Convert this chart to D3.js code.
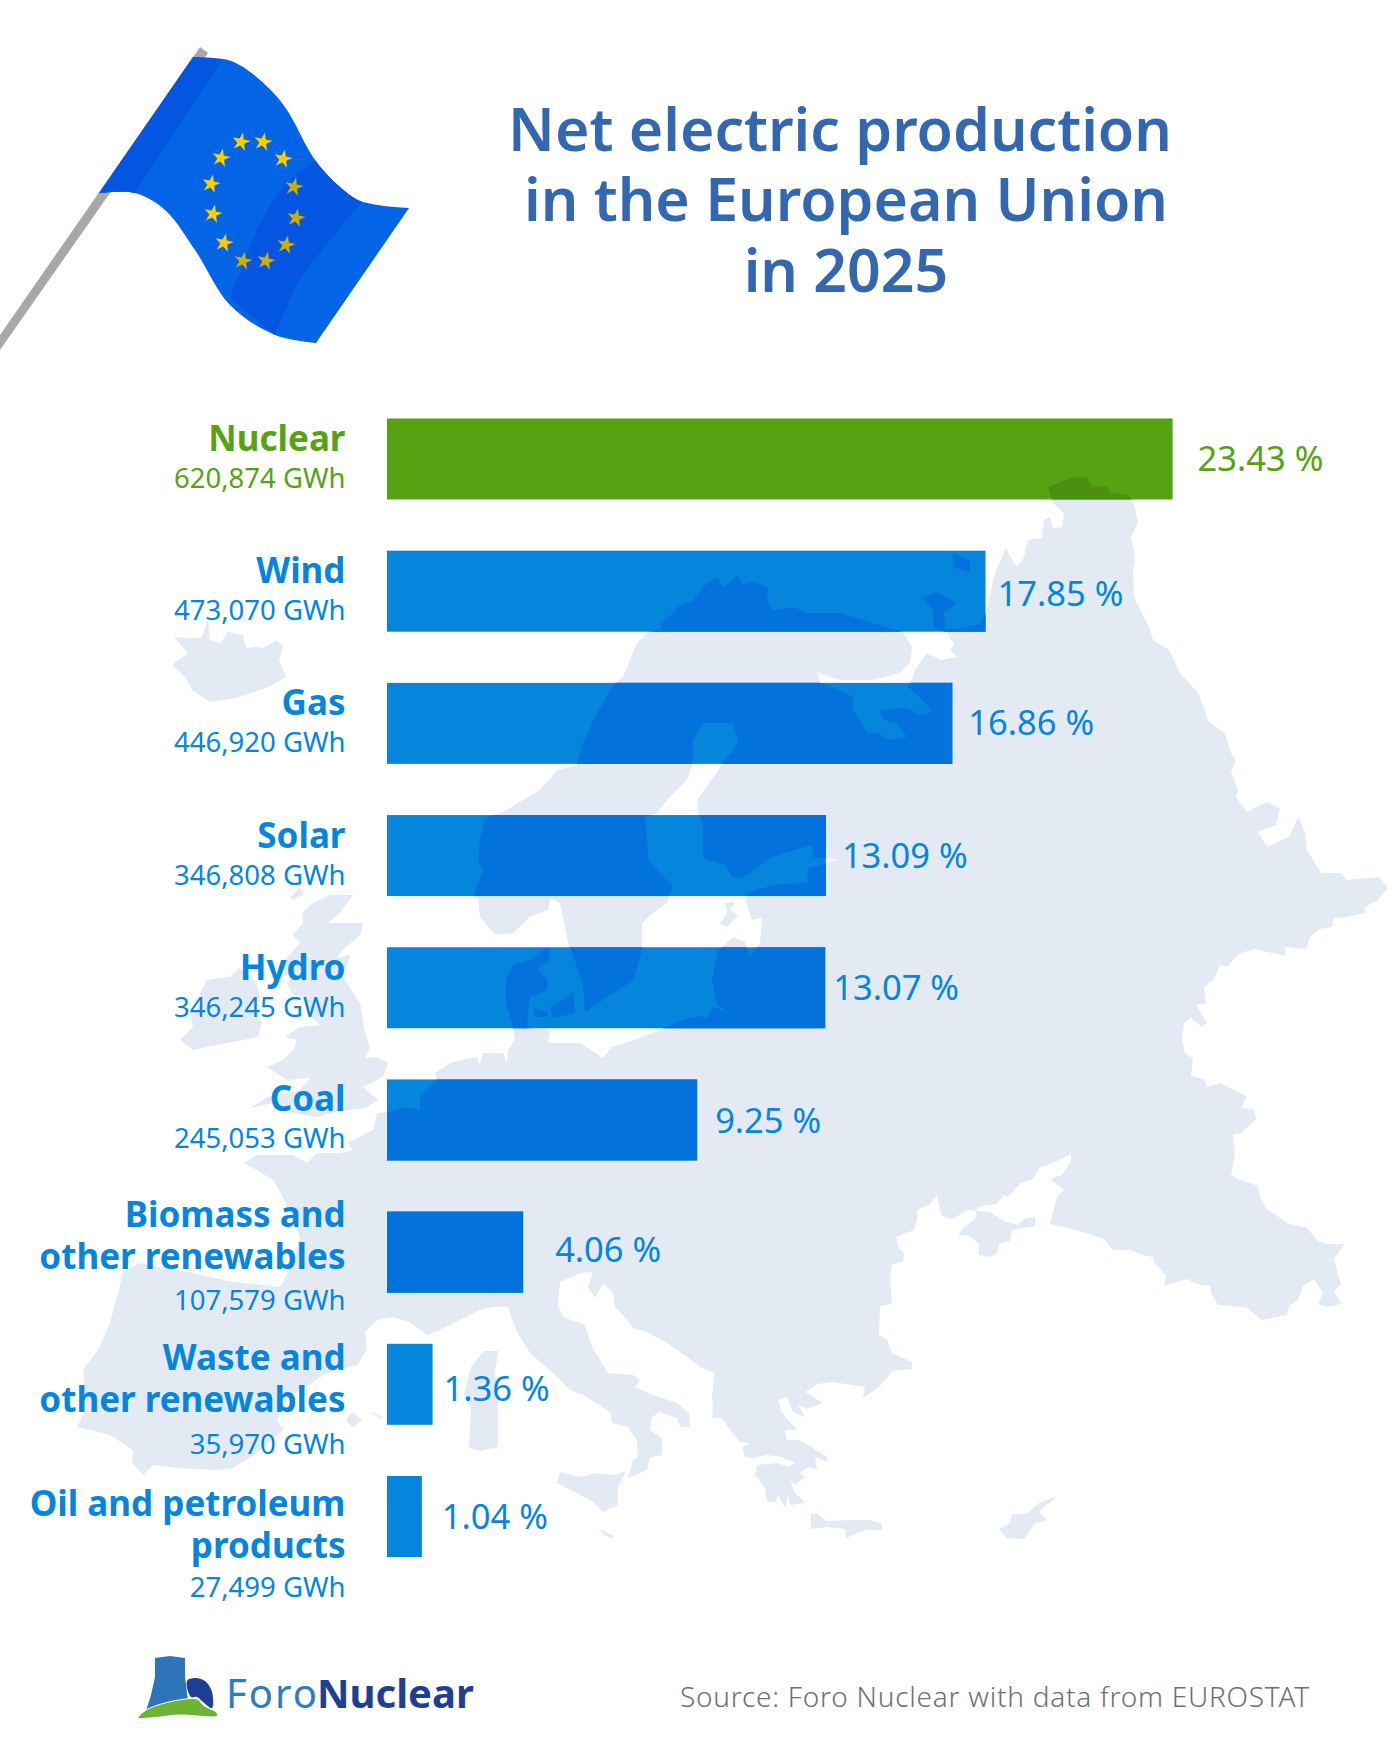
<!DOCTYPE html>
<html lang="en">
<head>
<meta charset="utf-8">
<title>Net electric production in the European Union in 2025</title>
<script src="https://cdn.jsdelivr.net/npm/d3@7"></script>
<style>
  html, body { margin: 0; padding: 0; background: #fff; }
  svg { display: block; }
  text { font-family: "Noto Sans", "Open Sans", sans-serif; }
</style>
</head>
<body>
<svg id="chart" width="1400" height="1750"></svg>
<script>
// ---- Chart data -------------------------------------------------------
const categories = ["Nuclear", "Wind", "Gas", "Solar", "Hydro", "Coal",
  "Biomass and other renewables", "Waste and other renewables", "Oil and petroleum products"];
const categoryLines = [["Nuclear"], ["Wind"], ["Gas"], ["Solar"], ["Hydro"], ["Coal"],
  ["Biomass and", "other renewables"], ["Waste and", "other renewables"], ["Oil and petroleum", "products"]];
const gwhValues = [620874, 473070, 446920, 346808, 346245, 245053, 107579, 35970, 27499];
const shareValues = [23.43, 17.85, 16.86, 13.09, 13.07, 9.25, 4.06, 1.36, 1.04];
const titleLines = ["Net electric production", "in the European Union", "in 2025"];
const sourceText = "Source: Foro Nuclear with data from EUROSTAT";

// ---- Row layout: hand-set label offsets for each row ------------------
const nameOffset = [32.5, 32.5, 32.5, 32.5, 32.5, 31.5, 15.5, 26, 40];
const gwhOffset = [69.5, 69.5, 69.5, 69.5, 70, 69, 98, 110, 121];
const shareOffset = [52, 55.5, 52.5, 53, 53, 54, 50.5, 57, 53.5];
const shareGap = [25, 12, 16, 16, 8, 18, 32, 11, 20];

// ---- Map of Europe (page coordinates) ---------------------------------
const mainland = [[660,630],[662,623],[673,613],[680,605],[693,601],[703,587],[717,577],[723,587],[730,583],[738,574],[742,585],[753,582],[768,587],[767,600],[773,610],[793,607],[807,613],[840,613],[873,623],[903,632],[912,647],[910,663],[900,673],[873,680],[840,680],[817,672],[820,683],[833,687],[853,697],[853,710],[867,733],[877,733],[890,740],[907,737],[897,723],[883,720],[880,710],[907,708],[920,715],[933,712],[920,697],[908,687],[913,677],[915,670],[927,653],[941,660],[957,657],[950,650],[954,645],[948,633],[934,628],[933,610],[922,598],[937,592],[957,603],[944,613],[945,630],[968,627],[980,624],[986,613],[995,573],[1001,560],[1006,548],[1012,560],[1017,567],[1024,557],[1028,540],[1042,538],[1044,520],[1050,517],[1053,528],[1062,527],[1064,513],[1053,503],[1048,487],[1071,478],[1086,477],[1093,487],[1106,486],[1111,493],[1129,495],[1135,507],[1138,523],[1131,537],[1135,557],[1133,570],[1134,597],[1142,613],[1149,627],[1153,640],[1169,650],[1180,673],[1198,693],[1209,722],[1225,733],[1231,753],[1236,760],[1231,772],[1238,790],[1236,797],[1247,812],[1267,802],[1280,808],[1276,825],[1258,832],[1267,847],[1289,837],[1298,817],[1305,832],[1307,850],[1321,873],[1341,873],[1347,880],[1379,877],[1388,888],[1378,900],[1365,907],[1365,913],[1347,917],[1334,918],[1332,927],[1320,929],[1309,938],[1307,949],[1285,947],[1285,956],[1254,949],[1238,954],[1227,967],[1220,965],[1213,980],[1204,987],[1206,1003],[1196,1005],[1207,1023],[1202,1027],[1191,1018],[1184,1023],[1182,1038],[1185,1054],[1193,1058],[1191,1076],[1204,1079],[1207,1087],[1220,1083],[1247,1096],[1241,1108],[1254,1110],[1256,1119],[1240,1134],[1233,1134],[1235,1154],[1231,1175],[1238,1179],[1258,1186],[1260,1197],[1266,1208],[1289,1224],[1307,1228],[1318,1241],[1327,1244],[1345,1244],[1334,1259],[1337,1270],[1341,1284],[1334,1291],[1342,1304],[1327,1307],[1318,1304],[1323,1293],[1314,1279],[1303,1286],[1298,1300],[1289,1306],[1287,1315],[1262,1320],[1247,1308],[1231,1306],[1218,1305],[1211,1293],[1211,1286],[1196,1284],[1187,1279],[1164,1286],[1166,1275],[1155,1264],[1153,1257],[1142,1255],[1131,1250],[1113,1250],[1104,1239],[1086,1233],[1071,1229],[1050,1224],[1053,1212],[1057,1197],[1064,1190],[1050,1179],[1062,1175],[1071,1161],[1071,1154],[1053,1163],[1039,1168],[1033,1179],[1021,1183],[1008,1197],[1004,1195],[997,1204],[983,1206],[977,1208],[975,1219],[963,1228],[958,1236],[968,1235],[979,1244],[979,1255],[990,1257],[997,1253],[999,1244],[1010,1241],[1012,1230],[1035,1226],[1035,1217],[1024,1219],[1017,1225],[1004,1221],[990,1212],[968,1210],[952,1219],[941,1215],[937,1195],[930,1204],[917,1210],[917,1220],[914,1230],[896,1237],[899,1248],[904,1253],[903,1262],[892,1264],[890,1279],[892,1304],[880,1306],[879,1335],[887,1340],[892,1353],[912,1362],[912,1369],[892,1371],[879,1387],[863,1398],[865,1387],[832,1382],[818,1384],[805,1392],[823,1403],[807,1409],[798,1405],[805,1417],[793,1412],[787,1397],[778,1400],[782,1413],[797,1430],[785,1430],[787,1440],[800,1440],[827,1457],[828,1462],[815,1457],[817,1470],[808,1467],[800,1473],[805,1477],[795,1485],[790,1480],[795,1493],[806,1503],[790,1505],[788,1495],[785,1508],[778,1495],[775,1502],[767,1502],[765,1488],[755,1475],[757,1465],[777,1463],[788,1467],[795,1463],[782,1457],[767,1455],[753,1458],[745,1457],[742,1447],[750,1443],[740,1442],[730,1430],[722,1418],[712,1418],[713,1407],[712,1397],[714,1373],[700,1367],[687,1357],[667,1343],[647,1332],[633,1328],[623,1315],[615,1307],[613,1293],[603,1283],[595,1298],[588,1287],[593,1272],[580,1273],[560,1282],[558,1305],[563,1317],[585,1325],[592,1347],[608,1373],[633,1375],[640,1380],[635,1387],[653,1395],[677,1403],[689,1413],[690,1427],[680,1427],[677,1418],[660,1412],[652,1417],[650,1430],[662,1438],[662,1455],[650,1458],[647,1470],[628,1478],[633,1460],[638,1457],[637,1440],[628,1427],[612,1423],[610,1412],[583,1395],[570,1390],[553,1373],[530,1353],[517,1332],[508,1307],[503,1307],[493,1307],[480,1310],[440,1330],[427,1335],[410,1322],[393,1317],[377,1320],[365,1332],[367,1350],[357,1365],[327,1373],[300,1390],[283,1403],[277,1420],[283,1430],[257,1453],[233,1468],[217,1470],[177,1468],[153,1465],[143,1475],[132,1463],[133,1450],[110,1435],[77,1427],[87,1407],[83,1370],[98,1350],[110,1323],[118,1293],[123,1272],[140,1263],[193,1273],[233,1282],[280,1287],[293,1263],[300,1237],[283,1197],[273,1180],[257,1170],[243,1163],[257,1155],[293,1155],[307,1163],[317,1153],[340,1153],[353,1150],[347,1143],[373,1130],[377,1113],[387,1112],[407,1107],[420,1110],[420,1097],[437,1080],[435,1073],[443,1068],[452,1062],[477,1057],[480,1065],[483,1053],[503,1053],[507,1063],[508,1050],[515,1040],[513,1027],[507,1007],[505,993],[507,977],[513,965],[530,960],[548,947],[550,960],[537,970],[548,980],[547,990],[530,997],[528,1013],[527,1028],[550,1030],[548,1043],[580,1043],[603,1058],[612,1047],[625,1043],[656,1032],[683,1020],[700,1016],[707,1018],[713,1007],[729,1012],[717,1005],[712,980],[718,951],[733,937],[745,942],[750,957],[760,943],[762,918],[752,920],[745,900],[747,893],[773,885],[807,883],[808,868],[838,860],[813,857],[812,845],[787,852],[770,858],[750,873],[742,878],[733,878],[725,865],[703,858],[703,823],[698,813],[697,800],[710,782],[723,763],[738,743],[733,723],[703,723],[693,740],[693,763],[687,780],[667,800],[657,813],[645,817],[648,853],[647,858],[657,870],[673,887],[667,903],[653,913],[642,923],[642,950],[634,980],[612,994],[585,1012],[583,985],[571,949],[569,947],[560,903],[550,897],[560,887],[550,900],[548,910],[530,917],[513,933],[495,935],[480,917],[478,900],[473,897],[483,870],[478,860],[480,840],[485,818],[507,810],[518,803],[540,790],[557,770],[577,765],[583,743],[597,713],[615,683],[623,677],[637,643],[648,632]];
const iceland = [[208,620],[201,638],[188,638],[174,637],[188,653],[172,665],[185,677],[192,690],[210,702],[237,698],[268,687],[286,677],[279,660],[283,647],[277,640],[263,648],[257,647],[246,648],[243,635],[228,632],[221,643],[210,640]];
const greatBritain = [[313,903],[330,895],[353,895],[340,913],[328,923],[363,923],[360,935],[343,950],[337,958],[350,955],[343,977],[360,1003],[365,1033],[370,1047],[365,1058],[377,1057],[388,1063],[383,1077],[363,1087],[378,1100],[365,1108],[337,1112],[317,1117],[293,1113],[273,1103],[250,1108],[267,1097],[300,1090],[310,1078],[287,1080],[267,1067],[283,1060],[293,1050],[297,1040],[285,1037],[300,1027],[320,1025],[307,1013],[303,997],[293,995],[287,983],[297,973],[280,977],[287,957],[300,943],[293,935],[303,923],[302,913]];
const ireland = [[207,980],[218,978],[230,977],[240,968],[257,983],[260,997],[255,1007],[262,1023],[258,1037],[227,1043],[193,1050],[180,1040],[193,1027],[190,1013],[203,1003],[200,993]];
const smallIslands = [
  [[952,553],[970,560],[970,573],[954,567]],
  [[533,1008],[548,1012],[547,1017],[535,1017]],
  [[550,1008],[560,1002],[573,992],[575,1013],[553,1018]],
  [[725,903],[735,902],[730,910],[738,915],[727,927],[720,923],[727,913]],
  [[290,897],[300,887],[303,895],[293,900]],
  [[471,1367],[484,1351],[498,1351],[495,1373],[498,1400],[498,1447],[480,1451],[469,1447],[471,1409],[464,1395]],
  [[347,1417],[353,1412],[362,1420],[353,1427],[347,1422]],
  [[372,1412],[382,1417],[382,1419],[373,1414]],
  [[560,1472],[557,1483],[577,1493],[593,1502],[603,1512],[618,1505],[618,1487],[626,1471],[613,1475],[597,1473],[580,1477]],
  [[600,1529],[607,1533],[614,1536],[612,1538],[604,1535]],
  [[811,1514],[817,1514],[827,1521],[850,1520],[870,1520],[882,1524],[882,1530],[865,1530],[846,1538],[845,1529],[827,1527],[811,1529]],
  [[1057,1496],[1039,1503],[1026,1514],[1012,1514],[1010,1523],[999,1529],[1006,1538],[1024,1539],[1034,1524],[1047,1520],[1039,1512]]
];
const landShapes = [mainland, iceland, greatBritain, ireland, ...smallIslands];

// ---- Flag outline ------------------------------------------------------
const poleOutline = [[200,47],[208,53],[0,350],[0,335]];
const flagTopEdge = [[193,57],[223,59],[260,80],[287,110],[313,157],[340,187],[363,202],[409,208]];
const flagBottomEdge = [[99,193],[135,193],[165,210],[195,250],[230,305],[275,335],[316,343]];
const foldOne = [[193,57],[223,59],[135,193],[99,193]];
const foldTwoUpper = [[230,298],[257,230],[315,160]];
const foldTwoLower = [[275,335],[300,280],[362,202]];
const starCentres = [[241,142],[263,142],[283,159],[294,187],[296,218],[286,245],[266,261],[243,261],[224,243],[213,214],[211,184],[221,158]];
const shadedStars = [3, 4, 5, 6, 7];

// ---- Logo outline ------------------------------------------------------
const logoTower = [[155,1658],[170,1656],[185,1658],[185,1677],[188,1701],[146,1711],[151,1695],[155,1677]];
const logoDome = [[187,1681],[195,1678],[205,1681],[212,1692],[212,1708],[203,1702],[197,1697],[191,1697]];
const logoHill = [[138,1718],[150,1708],[197,1699],[203,1705],[217,1713],[217,1716],[180,1715],[150,1718]];

// ---- Scales -------------------------------------------------------------
const colors = {
  green: "#57a213", greenOnLand: "#4d8f10",
  blue: "#0585dc", blueOnLand: "#0472dc",
  land: "#e3eaf4", title: "#3368b0", source: "#707070"
};
const x = d3.scaleLinear().domain([0, 23.43]).range([387, 1172.6]);
const y = d3.scaleBand().domain(categories).range([418.5, 1557]).paddingInner(0.3872);

const svg = d3.select("#chart");
const outline = d3.line().curve(d3.curveLinear);
const closed = pts => outline(pts) + "Z";
const smooth = d3.line().curve(d3.curveMonotoneX);
const rounded = d3.line().curve(d3.curveCatmullRomClosed.alpha(0.5));

// ---- Background map ------------------------------------------------------
svg.append("g").selectAll("path").data(landShapes).join("path")
  .attr("d", closed).attr("fill", colors.land);

// ---- Flag ------------------------------------------------------------------
const flag = svg.append("g");
flag.append("path").attr("d", closed(poleOutline)).attr("fill", "#a8a8a8");
const band = (upper, lower) => {
  const back = d3.line().curve(d3.curveMonotoneX)(lower);
  const reversed = d3.line().curve(d3.curveCatmullRom)(lower.slice().reverse());
  return smooth(upper) + "L" + reversed.slice(1) + "Z";
};
const clothPath = band(flagTopEdge, flagBottomEdge);
flag.append("path").attr("d", clothPath).attr("fill", "#0365e6");
const defs = svg.append("defs");
defs.append("clipPath").attr("id", "cloth").append("path").attr("d", clothPath);
const folds = flag.append("g").attr("clip-path", "url(#cloth)").attr("fill", "#0256e2");
folds.append("path").attr("d", closed(foldOne));
folds.append("path").attr("d", band(foldTwoUpper, foldTwoLower));
flag.append("g").selectAll("path").data(starCentres).join("path")
  .attr("d", d3.symbol(d3.symbolStar, 105))
  .attr("transform", d => `translate(${d[0]},${d[1]}) rotate(12)`)
  .attr("fill", (d, i) => shadedStars.includes(i) ? "#cbae06" : "#ffcc00");

// ---- Title -----------------------------------------------------------------
const titleX = [840, 846, 846];
const titleY = [150.5, 221, 291.5];
svg.append("g").selectAll("text").data(titleLines).join("text")
  .attr("x", (d, i) => titleX[i]).attr("y", (d, i) => titleY[i])
  .attr("text-anchor", "middle").attr("font-size", 59).attr("font-weight", 600)
  .attr("fill", colors.title).text(d => d);

// ---- Bars, with the land showing through them --------------------------------
const rowColor = i => i === 0 ? colors.green : colors.blue;
const rowLand = i => i === 0 ? colors.greenOnLand : colors.blueOnLand;
const rows = svg.append("g").selectAll("g").data(categories).join("g");
rows.append("rect")
  .attr("x", x(0)).attr("y", d => y(d))
  .attr("width", (d, i) => x(shareValues[i]) - x(0))
  .attr("height", y.bandwidth())
  .attr("fill", (d, i) => rowColor(i));
rows.append("clipPath").attr("id", (d, i) => "row-" + i).append("rect")
  .attr("x", x(0)).attr("y", d => y(d))
  .attr("width", (d, i) => x(shareValues[i]) - x(0))
  .attr("height", y.bandwidth());
rows.append("g").attr("clip-path", (d, i) => `url(#row-${i})`)
  .attr("fill", (d, i) => rowLand(i))
  .selectAll("path").data(landShapes).join("path").attr("d", closed);

// ---- Row labels -------------------------------------------------------------
const labelRight = 345.5;
const nameLead = 42;
rows.each(function (d, i) {
  const row = d3.select(this);
  const top = y(d);
  row.selectAll("text.name").data(categoryLines[i]).join("text").attr("class", "name")
    .attr("x", labelRight).attr("y", (s, k) => top + nameOffset[i] + k * nameLead)
    .attr("text-anchor", "end").attr("font-size", 35).attr("font-weight", 700)
    .attr("fill", rowColor(i)).text(s => s);
  row.append("text")
    .attr("x", labelRight).attr("y", top + gwhOffset[i])
    .attr("text-anchor", "end").attr("font-size", 27.5).attr("font-weight", 400)
    .attr("fill", rowColor(i)).text(d3.format(",")(gwhValues[i]) + " GWh");
  row.append("text")
    .attr("x", x(shareValues[i]) + shareGap[i]).attr("y", top + shareOffset[i])
    .attr("font-size", 34.5).attr("font-weight", 400)
    .attr("fill", rowColor(i)).text(d3.format(".2f")(shareValues[i]) + " %");
});

// ---- Logo and source ---------------------------------------------------------
const logo = svg.append("g");
logo.append("path").attr("d", closed(logoTower)).attr("fill", "#2e74b8");
logo.append("path").attr("d", rounded(logoDome)).attr("fill", "#1e3f93");
logo.append("path").attr("d", rounded(logoHill)).attr("fill", "#6cb434").attr("stroke", "#fff").attr("stroke-width", 1);
logo.append("text").attr("x", 226).attr("y", 1708).attr("font-size", 40).attr("font-weight", 400)
  .attr("letter-spacing", 2).attr("fill", "#2e7cc0").text("Foro");
logo.append("text").attr("x", 317).attr("y", 1708).attr("font-size", 40).attr("font-weight", 700)
  .attr("fill", "#1e3f93").text("Nuclear");
svg.append("text").attr("x", 680).attr("y", 1707).attr("font-size", 28).attr("font-weight", 300)
  .attr("letter-spacing", 0.75).attr("fill", colors.source).text(sourceText);
</script>
</body>
</html>
